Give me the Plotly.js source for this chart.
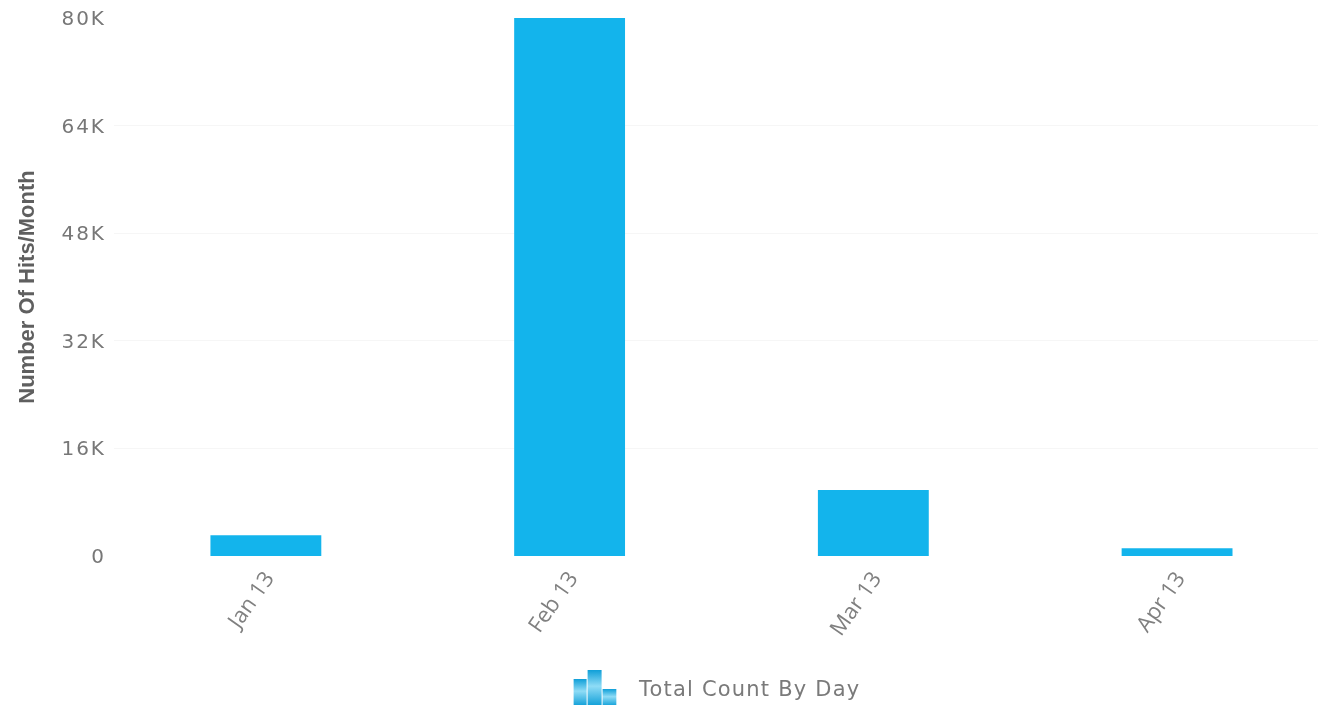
<!DOCTYPE html>
<html>
<head>
<meta charset="utf-8">
<script src="https://cdn.plot.ly/plotly-3.0.1.min.js"></script>
<style>
html,body{margin:0;padding:0;background:#fff;overflow:hidden}
#chart{width:1318px;height:705px;filter:blur(0.5px)}
.ytick text{letter-spacing:2px}
.annotation-text{letter-spacing:1.2px}
</style>
</head>
<body>
<div id="chart"></div>
<script>
const categories = ["Jan 13", "Feb 13", "Mar 13", "Apr 13"];
const hits = [3100, 80000, 9800, 1150];
const yTicks = [0, 16000, 32000, 48000, 64000, 80000];
const yTickLabels = ["0", "16K", "32K", "48K", "64K", "80K"];
const seriesName = "Total Count By Day";
const yTitle = "Number Of Hits/Month";

const icon = 'data:image/svg+xml;utf8,' + encodeURIComponent(
 '<svg xmlns="http://www.w3.org/2000/svg" width="44" height="36" viewBox="0 0 44 36">' +
 '<defs><linearGradient id="g" x1="0" x2="0" y1="0" y2="1"><stop offset="0" stop-color="#0f9fd8"/><stop offset="0.45" stop-color="#8fdcf6"/><stop offset="1" stop-color="#0f9fd8"/></linearGradient></defs>' +
 '<rect x="1" y="9" width="13" height="27" fill="url(#g)"/><rect x="15" y="0" width="14" height="36" fill="url(#g)"/><rect x="30" y="19" width="14" height="17" fill="url(#g)"/></svg>');

Plotly.newPlot('chart', [{
  type: 'bar',
  x: categories,
  y: hits,
  width: 0.365,
  marker: {color: '#13b4ec', line: {width: 0}},
  name: seriesName,
  hoverinfo: 'x+y'
}], {
  width: 1318,
  height: 705,
  paper_bgcolor: '#ffffff',
  plot_bgcolor: '#ffffff',
  showlegend: false,
  margin: {l: 113.5, r: 0, t: 18, b: 149},
  xaxis: {
    type: 'category',
    categoryorder: 'array',
    categoryarray: categories,
    range: [-0.5, 3.464],
    tickangle: -55,
    ticks: '',
    ticklabelstandoff: 4,
    showgrid: false,
    showline: false,
    zeroline: false,
    tickfont: {family: '"Open Sans", sans-serif', size: 22, color: '#808080'}
  },
  yaxis: {
    range: [0, 80000],
    tickvals: yTicks,
    ticktext: yTickLabels,
    ticks: '',
    ticklen: 0,
    ticklabelstandoff: 7,
    showline: false,
    zeroline: false,
    gridcolor: '#f6f6f6',
    gridwidth: 1,
    tickfont: {family: '"DejaVu Sans", sans-serif', size: 20, color: '#777777'},
    automargin: false,
    title: {
      text: yTitle,
      standoff: 20,
      font: {family: '"Liberation Sans", sans-serif', size: 22, color: '#5f5f5f', weight: 700}
    }
  },
  annotations: [{
    xref: 'paper', yref: 'paper', x: (635 - 113) / 1205, y: -(689 - 556) / 538,
    xanchor: 'left', yanchor: 'middle', showarrow: false,
    text: seriesName,
    font: {family: '"DejaVu Sans", sans-serif', size: 21, color: '#7a7a7a'}
  }],
  images: [{
    source: icon, xref: 'paper', yref: 'paper',
    x: (572 - 113) / 1205, y: -(670 - 556) / 538,
    sizex: 44 / 1205, sizey: 36 / 538, xanchor: 'left', yanchor: 'top', sizing: 'stretch', layer: 'above'
  }]
}, {displayModeBar: false});
</script>
</body>
</html>
